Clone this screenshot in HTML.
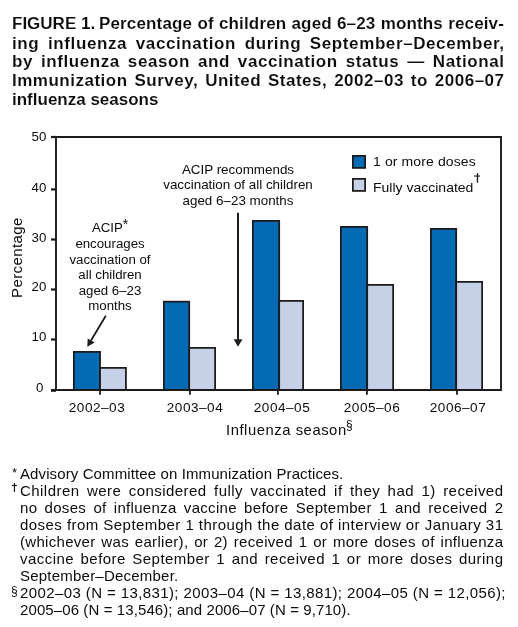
<!DOCTYPE html>
<html><head><meta charset="utf-8">
<style>
html,body{margin:0;padding:0;background:#fff;}
body{width:518px;height:627px;position:relative;overflow:hidden;font-family:"Liberation Sans",sans-serif;color:#0d0b0c;}
.t{position:absolute;white-space:nowrap;line-height:20px;transform-origin:0 0;}
svg{position:absolute;left:0;top:0;}
.t{will-change:transform;}
</style></head><body>
<svg width="518" height="627" viewBox="0 0 518 627">
<rect x="73.875" y="351.875" width="26.175" height="38.250" fill="#046ab4" stroke="#1c1a1b" stroke-width="1.75"/>
<rect x="100.050" y="367.875" width="25.875" height="22.250" fill="#c6d1e8" stroke="#1c1a1b" stroke-width="1.75"/>
<line x1="100.05" y1="389" x2="100.05" y2="394.8" stroke="#1c1a1b" stroke-width="1.8"/>
<rect x="163.875" y="301.675" width="25.325" height="88.450" fill="#046ab4" stroke="#1c1a1b" stroke-width="1.75"/>
<rect x="189.200" y="347.875" width="25.925" height="42.250" fill="#c6d1e8" stroke="#1c1a1b" stroke-width="1.75"/>
<line x1="190.0" y1="389" x2="190.0" y2="394.8" stroke="#1c1a1b" stroke-width="1.8"/>
<rect x="252.875" y="220.875" width="26.325" height="169.250" fill="#046ab4" stroke="#1c1a1b" stroke-width="1.75"/>
<rect x="279.200" y="300.875" width="23.925" height="89.250" fill="#c6d1e8" stroke="#1c1a1b" stroke-width="1.75"/>
<line x1="277.9" y1="389" x2="277.9" y2="394.8" stroke="#1c1a1b" stroke-width="1.8"/>
<rect x="340.875" y="226.875" width="26.325" height="163.250" fill="#046ab4" stroke="#1c1a1b" stroke-width="1.75"/>
<rect x="367.200" y="284.875" width="25.925" height="105.250" fill="#c6d1e8" stroke="#1c1a1b" stroke-width="1.75"/>
<line x1="366.9" y1="389" x2="366.9" y2="394.8" stroke="#1c1a1b" stroke-width="1.8"/>
<rect x="430.875" y="228.875" width="25.325" height="161.250" fill="#046ab4" stroke="#1c1a1b" stroke-width="1.75"/>
<rect x="456.200" y="281.875" width="25.925" height="108.250" fill="#c6d1e8" stroke="#1c1a1b" stroke-width="1.75"/>
<line x1="457.0" y1="389" x2="457.0" y2="394.8" stroke="#1c1a1b" stroke-width="1.8"/>
<path d="M51 137 H501 V390 H51" fill="none" stroke="#1c1a1b" stroke-width="1.9"/>
<line x1="56" y1="136.1" x2="56" y2="391" stroke="#1c1a1b" stroke-width="1.9"/>
<line x1="51" y1="137" x2="56" y2="137" stroke="#1c1a1b" stroke-width="2.2"/>
<line x1="51" y1="189.4" x2="56" y2="189.4" stroke="#1c1a1b" stroke-width="2.2"/>
<line x1="51" y1="239.5" x2="56" y2="239.5" stroke="#1c1a1b" stroke-width="2.2"/>
<line x1="51" y1="289.5" x2="56" y2="289.5" stroke="#1c1a1b" stroke-width="2.2"/>
<line x1="51" y1="339.5" x2="56" y2="339.5" stroke="#1c1a1b" stroke-width="2.2"/>
<line x1="51" y1="390.4" x2="56" y2="390.4" stroke="#1c1a1b" stroke-width="2.8"/>
<line x1="238" y1="212.7" x2="238" y2="341" stroke="#1c1a1b" stroke-width="2"/>
<path d="M233.7 339.2 L242.4 339.2 L238 346.8 Z" fill="#1c1a1b"/>
<line x1="105.8" y1="315.7" x2="91" y2="340.5" stroke="#1c1a1b" stroke-width="1.8"/>
<path d="M87.3 346.7 L87.7 338.4 L94.7 342.5 Z" fill="#1c1a1b"/>
<rect x="352.875" y="155.875" width="12.250" height="12.050" fill="#046ab4" stroke="#1c1a1b" stroke-width="1.75"/>
<rect x="352.875" y="178.875" width="12.250" height="12.050" fill="#c6d1e8" stroke="#1c1a1b" stroke-width="1.75"/>
<rect x="13.85" y="483" width="1.2" height="9" fill="#1c1a1b"/>
<rect x="11.8" y="484.9" width="5.1" height="1.15" fill="#1c1a1b"/>
<rect x="476.8" y="173.1" width="1.35" height="9.6" fill="#1c1a1b"/>
<rect x="474" y="175.5" width="6" height="1.1" fill="#1c1a1b"/>
</svg>
<div class="t" style="left:12px;top:14px;font-size:17px;font-weight:bold;-webkit-text-stroke:0.1px #fff;">FIGURE 1.</div>
<div class="t" style="left:98.6px;top:14px;font-size:17px;font-weight:bold;-webkit-text-stroke:0.1px #fff;width:405.04999999999995px;text-align:justify;text-align-last:justify;letter-spacing:0.15px;">Percentage of children aged 6–23 months receiv-</div>
<div class="t" style="left:12px;top:34px;font-size:17px;font-weight:bold;-webkit-text-stroke:0.1px #fff;width:492.6px;text-align:justify;text-align-last:justify;letter-spacing:0.6px;">ing influenza vaccination during September–December,</div>
<div class="t" style="left:12px;top:52px;font-size:17px;font-weight:bold;-webkit-text-stroke:0.1px #fff;width:492.58px;text-align:justify;text-align-last:justify;letter-spacing:0.58px;">by influenza season and vaccination status — National</div>
<div class="t" style="left:12px;top:71px;font-size:17px;font-weight:bold;-webkit-text-stroke:0.1px #fff;width:492.5px;text-align:justify;text-align-last:justify;letter-spacing:0.5px;">Immunization Survey, United States, 2002–03 to 2006–07</div>
<div class="t" style="left:12px;top:90px;font-size:17px;font-weight:bold;-webkit-text-stroke:0.1px #fff;">influenza seasons</div>
<div class="t" style="left:20px;top:464px;font-size:15px;letter-spacing:0.11px;">Advisory Committee on Immunization Practices.</div>
<div class="t" style="left:20px;top:481px;font-size:15px;width:483.45px;text-align:justify;text-align-last:justify;letter-spacing:0.45px;">Children were considered fully vaccinated if they had 1) received</div>
<div class="t" style="left:20px;top:498px;font-size:15px;width:483.3px;text-align:justify;text-align-last:justify;letter-spacing:0.3px;">no doses of influenza vaccine before September 1 and received 2</div>
<div class="t" style="left:20px;top:515px;font-size:15px;width:483.45px;text-align:justify;text-align-last:justify;letter-spacing:0.45px;">doses from September 1 through the date of interview or January 31</div>
<div class="t" style="left:20px;top:532px;font-size:15px;width:483.3px;text-align:justify;text-align-last:justify;letter-spacing:0.3px;">(whichever was earlier), or 2) received 1 or more doses of influenza</div>
<div class="t" style="left:20px;top:549px;font-size:15px;width:483.45px;text-align:justify;text-align-last:justify;letter-spacing:0.45px;">vaccine before September 1 and received 1 or more doses during</div>
<div class="t" style="left:20px;top:566px;font-size:15px;letter-spacing:0.22px;">September–December.</div>
<div class="t" style="left:20px;top:583px;font-size:15px;width:483.4px;text-align:justify;text-align-last:justify;letter-spacing:0.4px;">2002–03 (N = 13,831); 2003–04 (N = 13,881); 2004–05 (N = 12,056);</div>
<div class="t" style="left:20px;top:600px;font-size:15px;letter-spacing:0.1px;">2005–06 (N = 13,546); and 2006–07 (N = 9,710).</div>
<div class="t" style="left:11.7px;top:463px;font-size:13px;">*</div>
<div class="t" style="left:11px;top:580.5px;font-size:12px;">§</div>
<div class="t" style="left:0;width:46.3px;text-align:right;top:127px;font-size:13.3px;">50</div>
<div class="t" style="left:0;width:46.3px;text-align:right;top:178px;font-size:13.3px;">40</div>
<div class="t" style="left:0;width:46.3px;text-align:right;top:228px;font-size:13.3px;">30</div>
<div class="t" style="left:0;width:46.3px;text-align:right;top:277px;font-size:13.3px;">20</div>
<div class="t" style="left:0;width:46.3px;text-align:right;top:327px;font-size:13.3px;">10</div>
<div class="t" style="left:0;width:43.3px;text-align:right;top:378px;font-size:13.3px;">0</div>
<div class="t" style="left:-23px;top:248px;width:80px;text-align:center;font-size:15px;letter-spacing:0.4px;transform:rotate(-90deg);transform-origin:40px 10px;">Percentage</div>
<div class="t" style="left:57.150000000000006px;width:80px;text-align:center;top:398px;font-size:13.6px;letter-spacing:0.5px;">2002–03</div>
<div class="t" style="left:154.75px;width:80px;text-align:center;top:398px;font-size:13.6px;letter-spacing:0.5px;">2003–04</div>
<div class="t" style="left:242.14999999999998px;width:80px;text-align:center;top:398px;font-size:13.6px;letter-spacing:0.5px;">2004–05</div>
<div class="t" style="left:332.15px;width:80px;text-align:center;top:398px;font-size:13.6px;letter-spacing:0.5px;">2005–06</div>
<div class="t" style="left:418.05px;width:80px;text-align:center;top:398px;font-size:13.6px;letter-spacing:0.5px;">2006–07</div>
<div class="t" style="left:225.6px;top:420px;font-size:14.8px;letter-spacing:0.55px;">Influenza season</div>
<div class="t" style="left:345.6px;top:415px;font-size:12px;">§</div>
<div class="t" style="left:373.4px;top:152px;font-size:13px;letter-spacing:0.1px;transform:scaleX(1.077);">1 or more doses</div>
<div class="t" style="left:373.4px;top:178px;font-size:13px;letter-spacing:0px;transform:scaleX(1.077);">Fully vaccinated</div>
<div class="t" style="left:49.6px;width:120px;text-align:center;top:218px;font-size:13.25px;">ACIP<span style="font-size:14px;line-height:0;position:relative;top:-3px;margin-left:-0.2px">*</span></div>
<div class="t" style="left:50px;width:120px;text-align:center;top:234px;font-size:13.25px;">encourages</div>
<div class="t" style="left:50px;width:120px;text-align:center;top:250px;font-size:13.25px;">vaccination of</div>
<div class="t" style="left:50px;width:120px;text-align:center;top:265px;font-size:13.25px;">all children</div>
<div class="t" style="left:50px;width:120px;text-align:center;top:281px;font-size:13.25px;">aged 6–23</div>
<div class="t" style="left:50px;width:120px;text-align:center;top:296px;font-size:13.25px;">months</div>
<div class="t" style="left:148.4px;width:180px;text-align:center;top:160px;font-size:13.4px;">ACIP recommends</div>
<div class="t" style="left:148.4px;width:180px;text-align:center;top:175px;font-size:13.4px;">vaccination of all children</div>
<div class="t" style="left:148.4px;width:180px;text-align:center;top:191px;font-size:13.4px;">aged 6–23 months</div>
</body></html>
